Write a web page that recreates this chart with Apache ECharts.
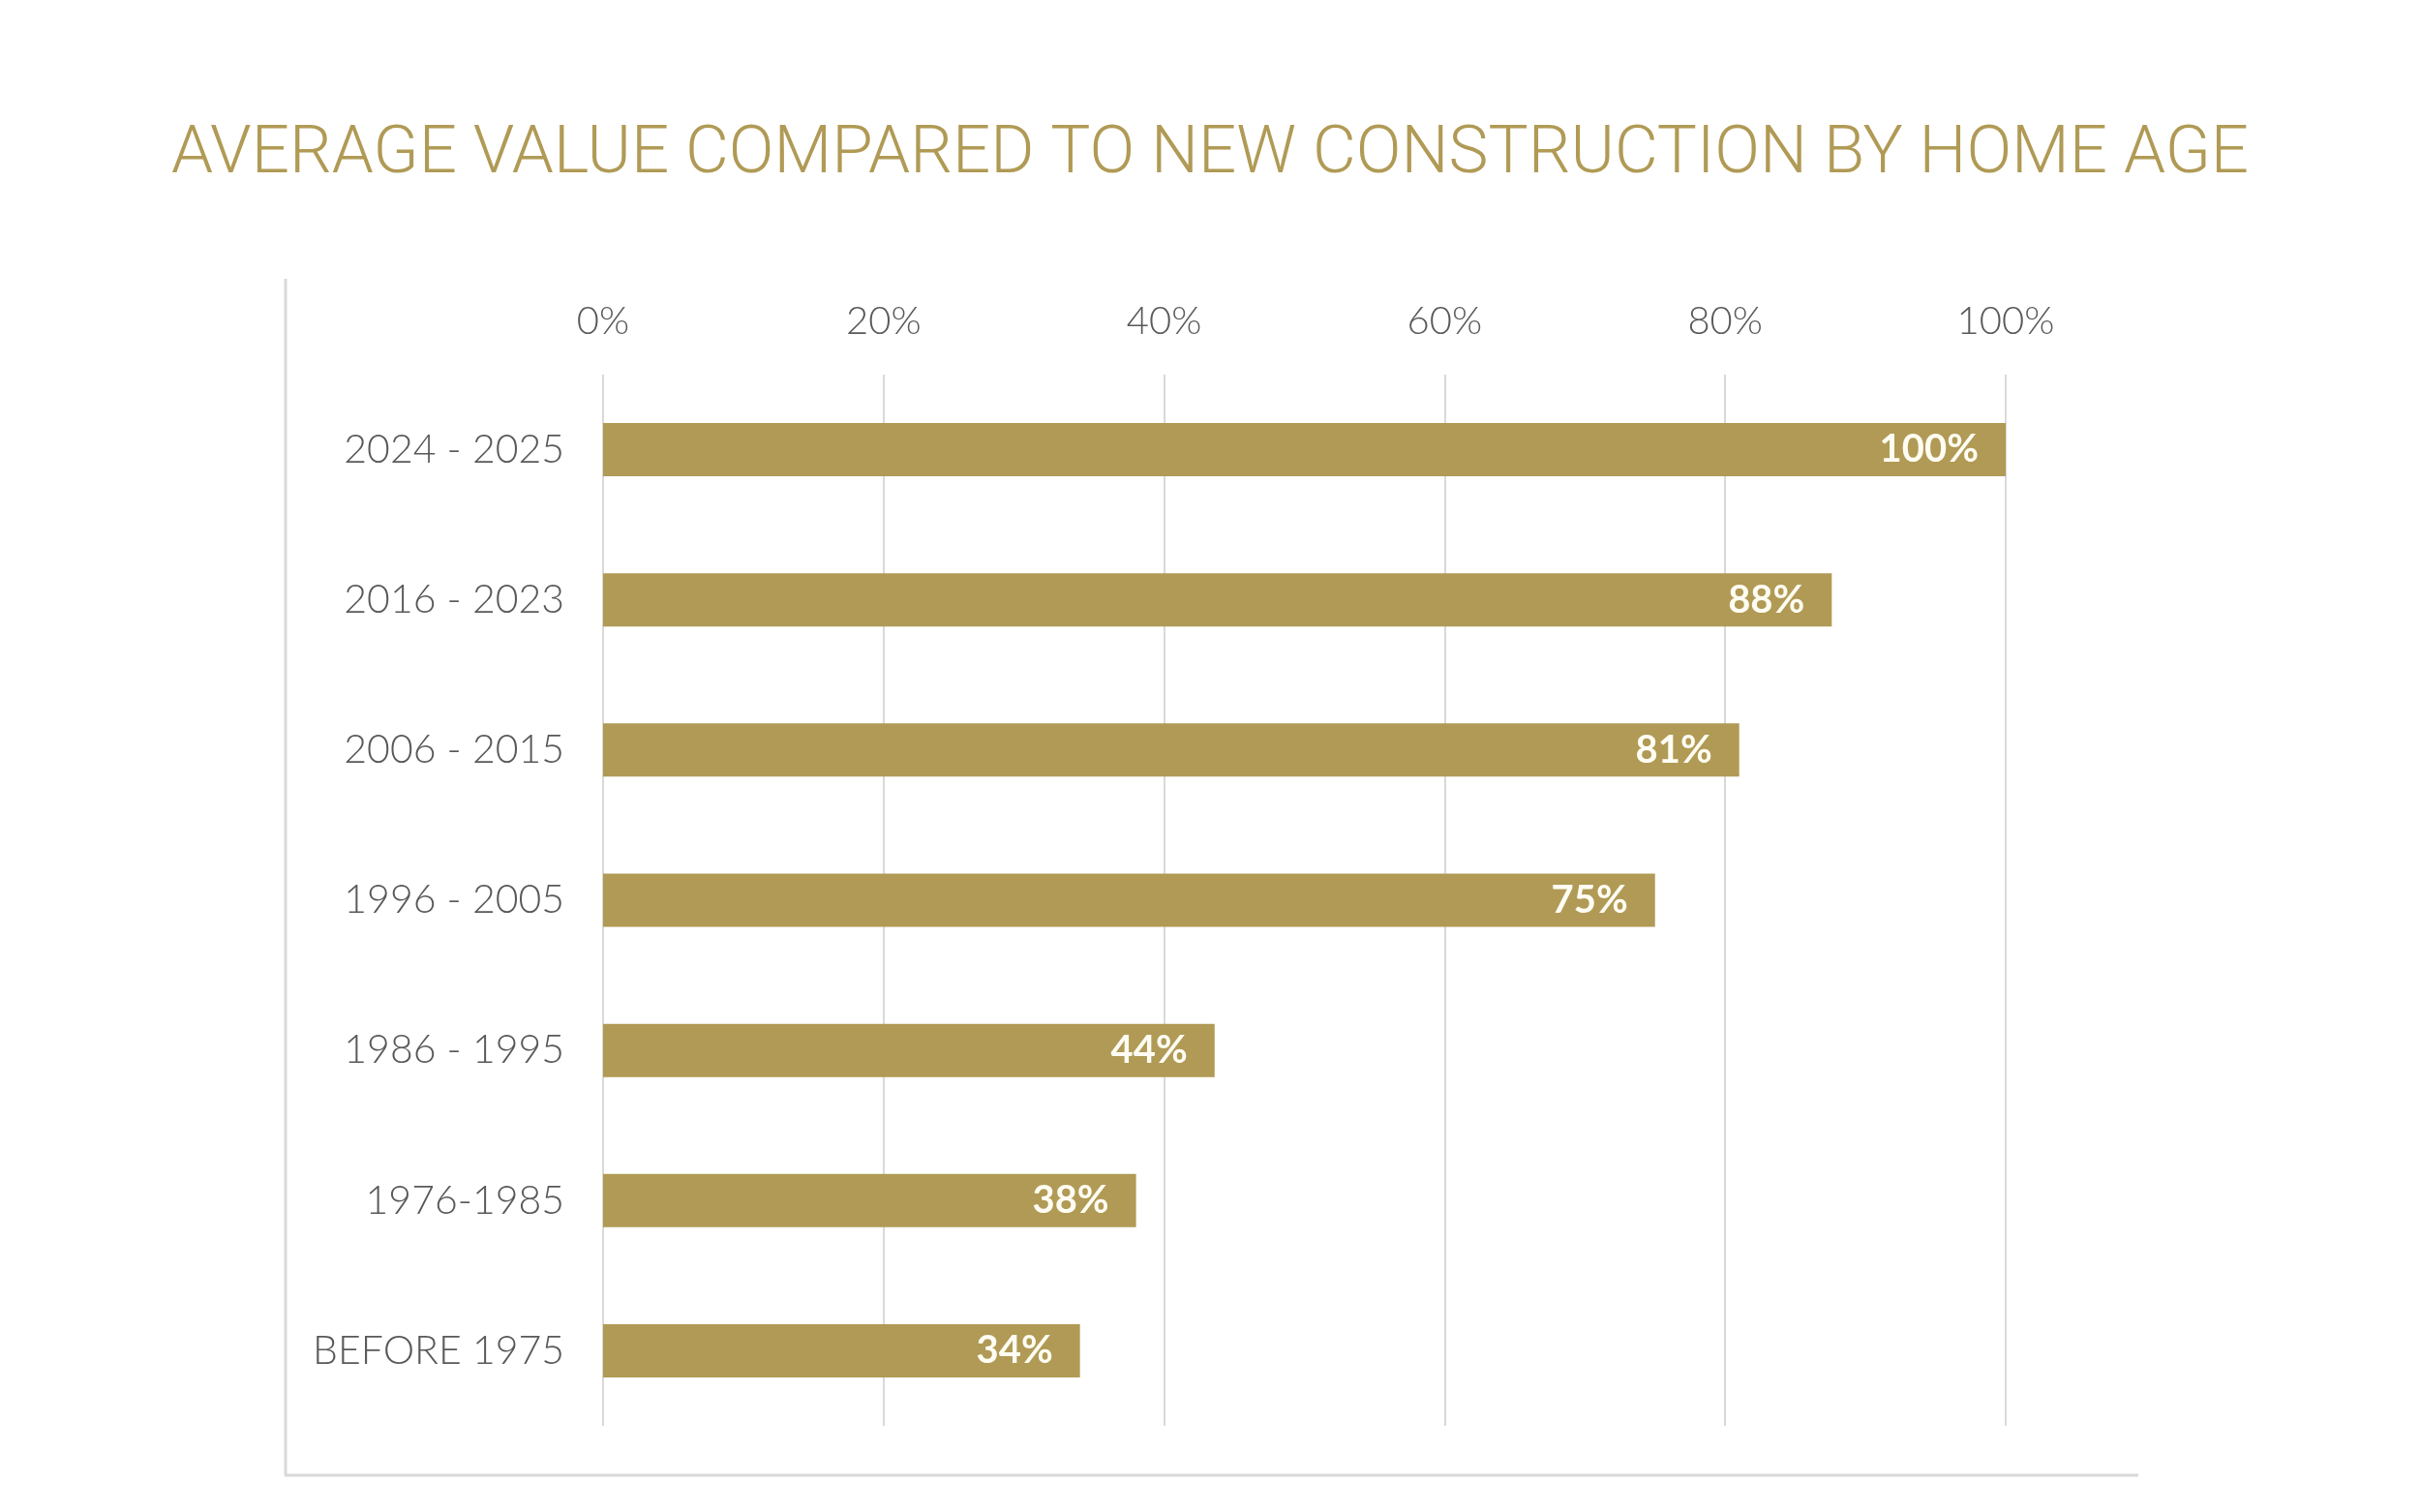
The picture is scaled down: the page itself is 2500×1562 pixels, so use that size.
<!DOCTYPE html>
<html><head><meta charset="utf-8">
<script src="https://cdn.jsdelivr.net/npm/echarts@6/dist/echarts.min.js"></script>
<style>html,body{margin:0;padding:0;background:#fff}#c{width:2500px;height:1562px}</style>
</head><body><div id="c"></div>
<script>
const categories = ['2024 - 2025','2016 - 2023','2006 - 2015','1996 - 2005','1986 - 1995','1976-1985','BEFORE 1975'];
const values = [100, 87.6, 81, 75, 43.6, 38, 34];
const xTicks = [0, 20, 40, 60, 80, 100];
const titleText = 'AVERAGE VALUE COMPARED TO NEW CONSTRUCTION BY HOME AGE';

const chart = echarts.init(document.getElementById('c'));
chart.setOption({
  backgroundColor: '#ffffff',
  animation: false,
  title: {
    text: titleText, left: 'center', top: 121,
    textStyle: {fontFamily: 'Roboto', fontWeight: 300, fontSize: 69, color: '#b09a55'}
  },
  grid: {left: 623, right: 428, top: 387, height: 1086},
  xAxis: {
    type: 'value', position: 'top', min: xTicks[0], max: xTicks[xTicks.length-1], interval: 20,
    axisLine: {show: false}, axisTick: {show: false},
    splitLine: {show: true, lineStyle: {color: '#d9d9d9', width: 2}},
    axisLabel: {formatter: '{value}%', fontFamily: 'Lato', fontWeight: 300, fontSize: 40, color: '#595959', margin: 35}
  },
  yAxis: {
    type: 'category', data: categories, inverse: true,
    axisLine: {show: false}, axisTick: {show: false},
    axisLabel: {fontFamily: 'Lato', fontWeight: 300, fontSize: 41, color: '#595959', margin: 40}
  },
  graphic: [
    {type: 'line', shape: {x1: 295, y1: 288, x2: 295, y2: 1524}, style: {stroke: '#d9d9d9', lineWidth: 3}},
    {type: 'line', shape: {x1: 294, y1: 1524, x2: 2209, y2: 1524}, style: {stroke: '#d9d9d9', lineWidth: 3}}
  ],
  series: [{
    type: 'bar', data: values, barWidth: 55,
    itemStyle: {color: '#b09a55'},
    label: {show: true, position: 'insideRight', distance: 28,
      formatter: p => Math.round(p.value) + '%',
      fontFamily: 'Lato', fontWeight: 'bold', fontSize: 40, color: '#fffdf3'}
  }]
});
</script></body></html>
